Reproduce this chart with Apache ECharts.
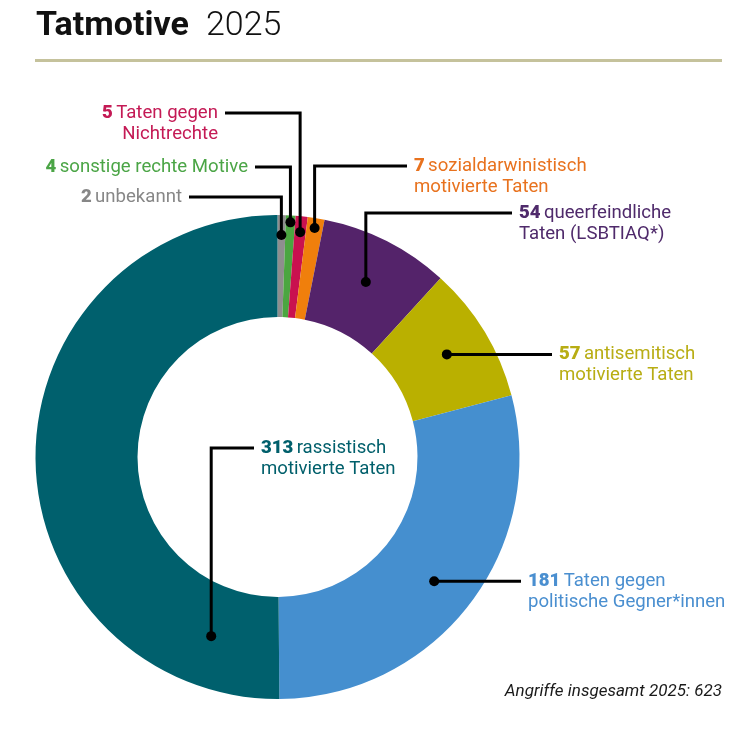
<!DOCTYPE html>
<html><head><meta charset="utf-8">
<script src="https://cdn.jsdelivr.net/npm/echarts@6/dist/echarts.min.js"></script>
<style>html,body{margin:0;padding:0;background:#fff}#c{width:752px;height:742px}</style>
</head><body><div id="c"></div>
<script>
// ---- data ----
const categories = ['unbekannt', 'sonstige rechte Motive', 'Taten gegen Nichtrechte', 'sozialdarwinistisch motivierte Taten', 'queerfeindliche Taten (LSBTIAQ*)', 'antisemitisch motivierte Taten', 'Taten gegen politische Gegner*innen', 'rassistisch motivierte Taten'];
const values = [2, 4, 5, 7, 54, 57, 181, 313];
const labelTexts = [['unbekannt'], ['sonstige rechte Motive'], ['Taten gegen', 'Nichtrechte'], ['sozialdarwinistisch', 'motivierte Taten'], ['queerfeindliche', 'Taten (LSBTIAQ*)'], ['antisemitisch', 'motivierte Taten'], ['Taten gegen', 'politische Gegner*innen'], ['rassistisch', 'motivierte Taten']];
const titleBold = 'Tatmotive';
const titleYear = '2025';
const footerText = 'Angriffe insgesamt 2025: 623';

// ---- styles / layout ----
const sliceColors = ['#8e8e8e', '#4ba640', '#c9114f', '#f07f0c', '#54236a', '#bab000', '#458fcf', '#00606d'];
const textColors = ['#878787', '#4ba546', '#c41a55', '#e8721e', '#4f2a6b', '#b8ad14', '#4a8fd0', '#005f6b'];
const CX = 277.5, CY = 457, R0 = 140, R1 = 242;
const FONT = 'Roboto, "Noto Sans", sans-serif';
const FS = 18.6, LH = 21, GAP = 7;
// label anchor (lx,ly = first line centre), alignment, leader type, dot radius, angular position within slice
const labelLayout = [
  {lx: 182, ly: 197, align: 'right', type: 'elbow', dotR: 222, frac: 0.5},
  {lx: 248, ly: 167, align: 'right', type: 'elbow', dotR: 235, frac: 0.5},
  {lx: 218, ly: 113, align: 'right', type: 'elbow', dotR: 226, frac: 0.5},
  {lx: 414, ly: 166, align: 'left', type: 'elbow', dotR: 232, frac: 0.5},
  {lx: 519, ly: 213, align: 'left', type: 'elbow', dotR: 196, frac: 0.5},
  {lx: 559, ly: 0, align: 'left', type: 'straight', dotR: 198, frac: 0.5},
  {lx: 528, ly: 0, align: 'left', type: 'straight', dotR: 200, frac: 0.51},
  {lx: 261, ly: 448, align: 'left', type: 'elbow', dotR: 191, frac: 0.115}
];

const chart = echarts.init(document.getElementById('c'), null, {renderer: 'canvas'});
chart.setOption({
  animation: false,
  backgroundColor: '#fff',
  series: [{
    type: 'pie',
    center: [CX, CY],
    radius: [R0, R1],
    startAngle: 90,
    clockwise: true,
    minAngle: 2,
    silent: true,
    label: {show: false},
    labelLine: {show: false},
    itemStyle: {borderWidth: 0},
    data: values.map((v, i) => ({name: categories[i], value: v, itemStyle: {color: sliceColors[i]}}))
  }]
});

// leader lines, dots and labels placed from the pie's own computed layout
const data = chart.getModel().getSeriesByIndex(0).getData();
const g = [];
g.push({type: 'text', z: 22, x: 36, y: 26, style: {text: titleBold, align: 'left', verticalAlign: 'middle', font: 'bold 34px ' + FONT, fill: '#111'}});
g.push({type: 'text', z: 22, x: 206, y: 26, style: {text: titleYear, align: 'left', verticalAlign: 'middle', font: '300 34px ' + FONT, fill: '#111'}});
g.push({type: 'line', z: 20, shape: {x1: 35, y1: 60.5, x2: 722, y2: 60.5}, style: {stroke: '#c5c29c', lineWidth: 3}});
values.forEach((v, i) => {
  const lay = data.getItemLayout(i);
  const L = labelLayout[i];
  const a = lay.startAngle + (lay.endAngle - lay.startAngle) * L.frac;
  const dx = lay.cx + L.dotR * Math.cos(a);
  const dy = lay.cy + L.dotR * Math.sin(a);
  let pts, ly = L.ly;
  if (L.type === 'straight') {
    ly = dy;
    pts = [[L.lx - GAP, dy], [dx, dy]];
  } else {
    const sx = L.align === 'right' ? L.lx + GAP : L.lx - GAP;
    pts = [[sx, ly], [dx, ly], [dx, dy]];
  }
  g.push({type: 'polyline', z: 20, shape: {points: pts}, style: {stroke: '#000', lineWidth: 3, fill: null, lineJoin: 'miter'}});
  g.push({type: 'circle', z: 21, shape: {cx: dx, cy: dy, r: 5}, style: {fill: '#000'}});
  const lines = labelTexts[i];
  let txt = '{n|' + v + '} {t|' + lines[0] + '}';
  for (let k = 1; k < lines.length; k++) txt += '\n{t|' + lines[k] + '}';
  g.push({
    type: 'text', z: 22,
    x: L.lx, y: ly - LH / 2,
    style: {
      text: txt,
      align: L.align, verticalAlign: 'top',
      rich: {
        n: {fontFamily: FONT, fontSize: FS, fontWeight: 900, fill: textColors[i], lineHeight: LH},
        t: {fontFamily: FONT, fontSize: FS, fontWeight: 400, fill: textColors[i], lineHeight: LH}
      }
    }
  });
});
g.push({type: 'text', z: 22, x: 722, y: 692, style: {text: footerText, align: 'right', verticalAlign: 'middle', font: 'italic 17px ' + FONT, fill: '#1a1a1a'}});
chart.setOption({graphic: g});
</script>
</body></html>
